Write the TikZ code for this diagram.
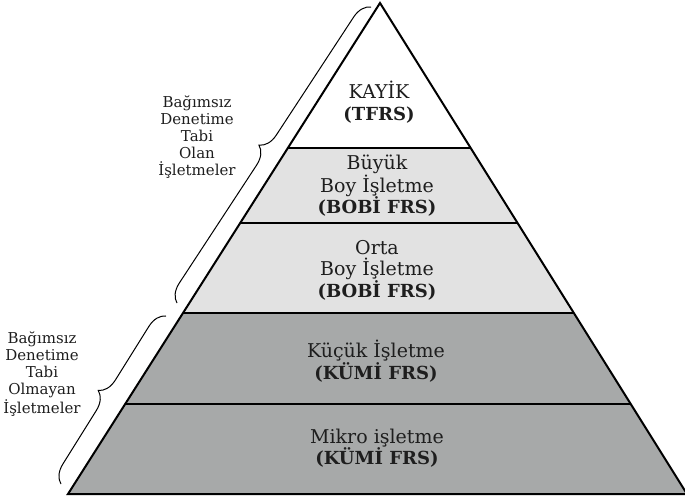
\documentclass[tikz,border=0pt]{standalone}
\usepackage{fontspec}
\setmainfont{DejaVu Serif}
\usetikzlibrary{calc,decorations.pathreplacing}
\definecolor{midgray}{RGB}{226,226,226}
\definecolor{lowgray}{RGB}{167,169,169}
\definecolor{txt}{RGB}{30,30,30}
\newcommand{\bl}[1]{{\fontsize{18}{21.5}\selectfont\bfseries #1}}
\begin{document}
\begin{tikzpicture}[x=1pt,y=-1pt,
  layertext/.style={font=\fontsize{19}{21.5}\selectfont, align=center, text=txt, inner sep=0pt},
  sidetext/.style={font=\fontsize{15}{17}\selectfont, align=center, text=txt, inner sep=0pt},
  edgeline/.style={line width=2pt, line join=miter},
  sepline/.style={line width=1.6pt},
  bracebar/.style={decorate, decoration={brace, amplitude=18pt, aspect=0.5}, line width=1pt}]
\useasboundingbox (0,0) rectangle (685,502);
\coordinate (A) at (380,3);
\coordinate (BL) at (68,494);
\coordinate (BR) at (687,494);
\coordinate (L1) at ($(A)!0.2953!(BL)$);
\coordinate (R1) at ($(A)!0.2953!(BR)$);
\coordinate (L2) at ($(A)!0.4481!(BL)$);
\coordinate (R2) at ($(A)!0.4481!(BR)$);
\coordinate (L3) at ($(A)!0.6314!(BL)$);
\coordinate (R3) at ($(A)!0.6314!(BR)$);
\coordinate (L4) at ($(A)!0.8167!(BL)$);
\coordinate (R4) at ($(A)!0.8167!(BR)$);
\fill[white] (A) -- (R1) -- (L1) -- cycle;
\fill[midgray] (L1) -- (R1) -- (R3) -- (L3) -- cycle;
\fill[lowgray] (L3) -- (R3) -- (BR) -- (BL) -- cycle;
\draw[sepline] (L1) -- (R1);
\draw[sepline] (L2) -- (R2);
\draw[sepline] (L3) -- (R3);
\draw[sepline] (L4) -- (R4);
\draw[edgeline] (A) -- (BR) -- (BL) -- cycle;
% braces
\coordinate (ub1) at (177,303);
\coordinate (ub2) at (371,7);
\coordinate (lb1) at (61,484);
\coordinate (lb2) at (166,316);
\draw[bracebar] (ub1) -- (ub2);
\draw[bracebar] (lb1) -- (lb2);
% texts
\node[layertext] (kayik) at (379,102) {KAYİK\\\bl{(TFRS)}};
\node[layertext] (buyuk) at (377,186) {Büyük\\Boy İşletme\\\bl{(BOBİ FRS)}};
\node[layertext] (orta) at (377,270) {Orta\\Boy İşletme\\\bl{(BOBİ FRS)}};
\node[layertext] (kucuk) at (376,361) {Küçük İşletme\\\bl{(KÜMİ FRS)}};
\node[layertext] (mikro) at (377,448) {Mikro işletme\\\bl{(KÜMİ FRS)}};
\node[sidetext] (olan) at (197,137) {Bağımsız\\Denetime\\Tabi\\Olan\\İşletmeler};
\node[sidetext] (olmayan) at (42,374) {Bağımsız\\Denetime\\Tabi\\Olmayan\\İşletmeler};
\end{tikzpicture}
\end{document}
